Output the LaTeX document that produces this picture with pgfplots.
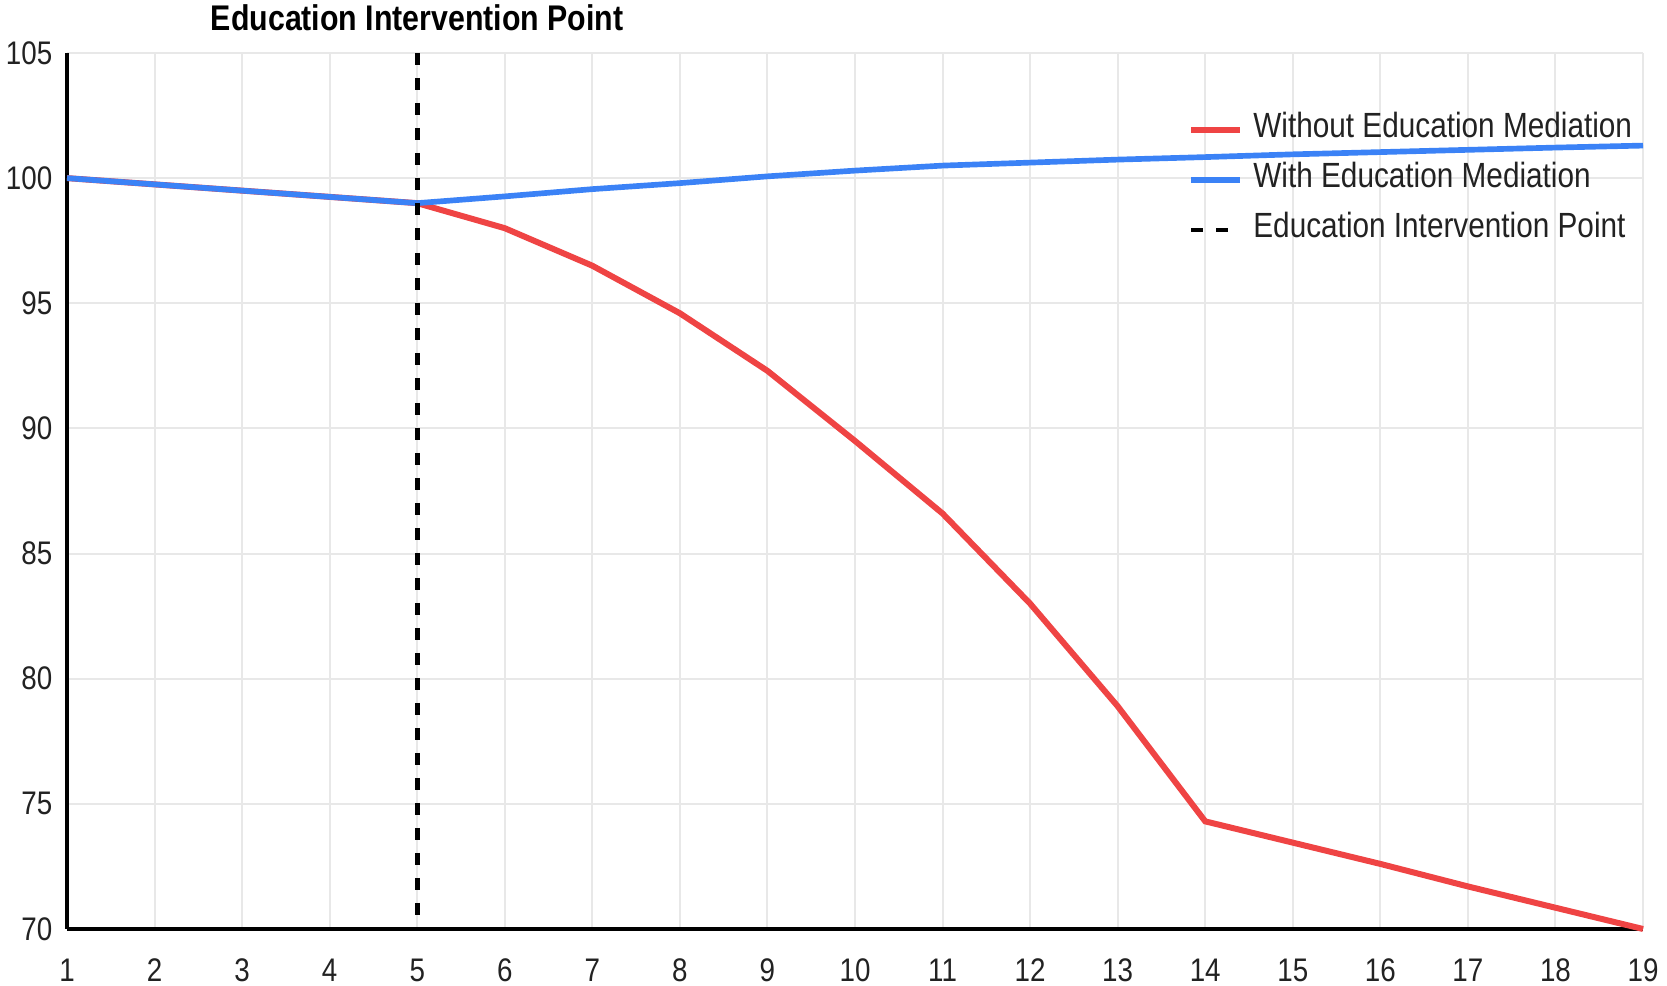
\documentclass[border=0pt]{standalone}
\usepackage{fontspec}
\setmainfont{Liberation Sans}[FakeStretch=0.85]
\usepackage{pgfplots}
\pgfplotsset{compat=1.18}
\definecolor{cred}{HTML}{EF4444}
\definecolor{cblue}{HTML}{3B82F6}
\definecolor{cgrid}{HTML}{E8E8E8}
\definecolor{ctext}{HTML}{222222}
\begin{document}
\begin{tikzpicture}
\begin{axis}[
  name=ax,
  scale only axis,
  width=472.8pt, height=262.8pt,
  xmin=1, xmax=19, ymin=70, ymax=105,
  xtick={1,...,19}, ytick={70,75,...,105},
  axis lines*=left,
  axis line style={black, line width=1pt, -},
  grid=major,
  major grid style={cgrid, line width=0.6pt},
  major tick length=0pt,
  tick label style={font=\fontsize{9.8}{11}\selectfont, text=ctext},
  /pgf/number format/assume math mode=true,
  xticklabel style={yshift=-5.4pt},
  yticklabel style={xshift=-0.9pt},
  clip=false,
  legend cell align=left,
  legend style={draw=none, fill=none, at={(axis cs:13.80,102.65)}, anchor=north west,
    inner sep=0pt, font=\fontsize{10.5}{12}\selectfont, text=ctext,
    nodes={inner sep=0pt, text height=7.5pt, text depth=0pt},
    row sep=7.5pt, column sep=3pt},
  legend image code/.code={\draw[#1] (0pt,-1.5pt) -- (14.7pt,-1.5pt);},
]
\addplot[cred, line width=1.8pt] coordinates {
(1,100) (2,99.75) (3,99.5) (4,99.25) (5,99.0) (6,98.0) (7,96.5) (8,94.6) (9,92.3) (10,89.5)
(11,86.6) (12,83.0) (13,78.9) (14,74.3) (15,73.45) (16,72.6) (17,71.7) (18,70.85) (19,70.0)};
\addlegendentry{Without Education Mediation}
\addplot[cblue, line width=1.7pt] coordinates {
(1,100) (2,99.75) (3,99.5) (4,99.25) (5,99.0) (6,99.27) (7,99.56) (8,99.8) (9,100.07) (10,100.3)
(11,100.5) (12,100.62) (13,100.74) (14,100.84) (15,100.95) (16,101.04) (17,101.13) (18,101.22) (19,101.3)};
\addlegendentry{With Education Mediation}
\addplot[black, line width=1.4pt, dash pattern=on 3.6pt off 3.9pt] coordinates {(5,105) (5,70)};
\addlegendentry{Education Intervention Point}
\node[font=\bfseries\fontsize{10.7}{12}\selectfont, text=black, anchor=base, yshift=6.6pt]
  at (axis cs:5,105) {Education Intervention Point};
\end{axis}
\pgfresetboundingbox
\path ([xshift=-20.1pt,yshift=-17.1pt]ax.south west) rectangle ([xshift=7.2pt,yshift=15.9pt]ax.north east);
\end{tikzpicture}
\end{document}
